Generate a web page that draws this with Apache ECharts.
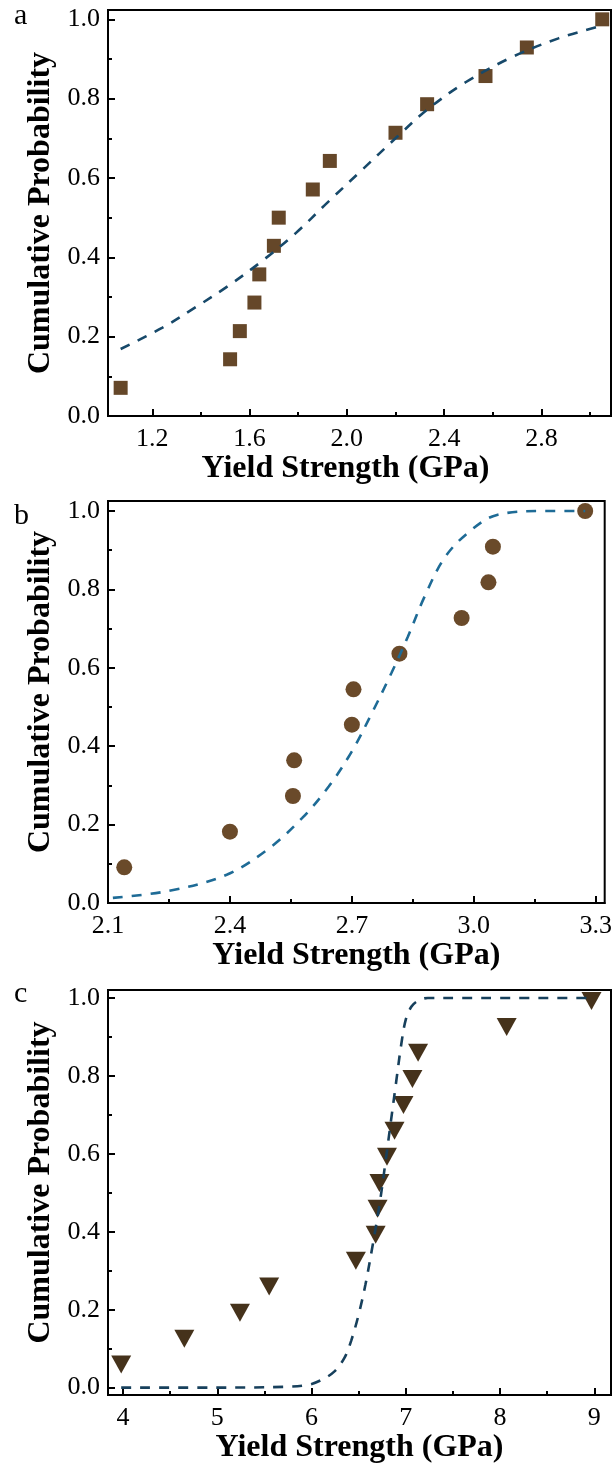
<!DOCTYPE html>
<html>
<head>
<meta charset="utf-8">
<script src="https://cdn.jsdelivr.net/npm/echarts@6/dist/echarts.min.js"></script>
<style>
  html, body { margin: 0; padding: 0; background: #fff; }
  #chart { width: 615px; height: 1470px; }
</style>
</head>
<body>
<div id="chart"></div>
<script>
// panel a: squares + fitted curve
const aStrength = [1.07, 1.52, 1.56, 1.62, 1.64, 1.70, 1.72, 1.86, 1.93, 2.20, 2.33, 2.57, 2.74, 3.05];
const aProb = [0.071, 0.143, 0.214, 0.286, 0.357, 0.429, 0.500, 0.571, 0.643, 0.714, 0.786, 0.857, 0.929, 1.000];
const aFitX = [1.07, 1.24, 1.38, 1.51, 1.65, 1.79, 1.92, 2.06, 2.20, 2.33, 2.49, 2.68, 2.87, 3.05];
const aFitY = [0.169, 0.222, 0.275, 0.327, 0.390, 0.461, 0.538, 0.619, 0.700, 0.772, 0.842, 0.905, 0.952, 0.984];

// panel b: circles + fitted curve
const bStrength = [2.14, 2.40, 2.555, 2.558, 2.70, 2.704, 2.817, 2.97, 3.036, 3.047, 3.274];
const bProb = [0.091, 0.182, 0.273, 0.364, 0.455, 0.545, 0.636, 0.727, 0.818, 0.909, 1.000];
const bFitX = [2.112, 2.25, 2.392, 2.497, 2.578, 2.643, 2.70, 2.749, 2.797, 2.838, 2.879, 2.927, 2.984, 3.057, 3.179, 3.274];
const bFitY = [0.013, 0.031, 0.072, 0.140, 0.217, 0.297, 0.387, 0.484, 0.586, 0.680, 0.782, 0.879, 0.943, 0.990, 1.000, 1.000];

// panel c: triangles + fitted curve
const cStrength = [3.98, 4.65, 5.24, 5.55, 6.47, 6.68, 6.70, 6.72, 6.80, 6.88, 6.975, 7.07, 7.13, 8.07, 8.97];
const cProb = [0.067, 0.133, 0.200, 0.267, 0.333, 0.400, 0.467, 0.533, 0.600, 0.667, 0.733, 0.800, 0.867, 0.933, 1.000];
const cFitX = [3.98, 5.00, 5.71, 5.96, 6.10, 6.24, 6.35, 6.42, 6.50, 6.572, 6.65, 6.721, 6.781, 6.837, 6.894, 6.951, 7.00, 7.06, 7.13, 7.233, 7.60, 8.97];
const cFitY = [0.000, 0.000, 0.002, 0.007, 0.019, 0.041, 0.077, 0.120, 0.188, 0.265, 0.368, 0.470, 0.573, 0.675, 0.778, 0.880, 0.945, 0.978, 0.993, 1.000, 1.000, 1.000];

// tick labels
const probTicks = [0, 0.2, 0.4, 0.6, 0.8, 1.0];
const probMinor = [0.1, 0.3, 0.5, 0.7, 0.9];
const aTicks = [1.2, 1.6, 2.0, 2.4, 2.8];
const aMinor = [1.4, 1.8, 2.2, 2.6, 3.0];
const bTicks = [2.1, 2.4, 2.7, 3.0, 3.3];
const bMinor = [2.25, 2.55, 2.85, 3.15];
const cTicks = [4, 5, 6, 7, 8, 9];
const cMinor = [4.5, 5.5, 6.5, 7.5, 8.5];

const FONT = "'Liberation Serif', 'Times New Roman', serif";
const zip = (xs, ys) => xs.map((x, i) => [x, ys[i]]);

const panels = [
    { grid: { left: 108, top: 10, right: 4, height: 406 },
      xMin: 1.018, xMax: 3.086, yMin: 0, yMax: 1.0235,
      xTicks: aTicks, xMinor: aMinor, xFmt: v => v.toFixed(1),
      xNamePad: [0, 28, 0, 0], yNamePad: [0, 0, 0, 0],
      pts: zip(aStrength, aProb), fit: zip(aFitX, aFitY),
      symbol: 'rect', symbolSize: 14, symbolOffset: [0, 0], color: '#654729', lineColor: '#17496A',
      letter: 'a', letterY: 25 },
    { grid: { left: 108, top: 501, right: 5, height: 402 },
      xMin: 2.1, xMax: 3.322, yMin: 0, yMax: 1.0255,
      xTicks: bTicks, xMinor: bMinor, xFmt: v => v.toFixed(1),
      xNamePad: [0, 0, 0, 0], yNamePad: [0, 0, 0, 20],
      pts: zip(bStrength, bProb), fit: zip(bFitX, bFitY),
      symbol: 'circle', symbolSize: 16, symbolOffset: [0, 0], color: '#6A4A2A', lineColor: '#1E6B96',
      letter: 'b', letterY: 525 },
    { grid: { left: 108, top: 990, right: 4, height: 405 },
      xMin: 3.84, xMax: 9.177, yMin: -0.019, yMax: 1.0205,
      xTicks: cTicks, xMinor: cMinor, xFmt: v => String(v),
      xNamePad: [0, 0, 0, 0], yNamePad: [0, 0, 0, 20],
      pts: zip(cStrength, cProb), fit: zip(cFitX, cFitY),
      symbol: 'triangle', symbolSize: [20, 18], symbolOffset: [0, 3], color: '#45321B', lineColor: '#17405C',
      letter: 'c', letterY: 1003 }
]

const chart = echarts.init(document.getElementById('chart'))

const grids = []
const xAxes = []
const yAxes = []
const series = []
const letters = []

panels.forEach((p, i) => {
    grids.push(Object.assign({ show: true, borderColor: '#000', borderWidth: 2, backgroundColor: 'transparent' }, p.grid))

    // main x axis with labels
    xAxes.push({
        type: 'value', gridIndex: i, position: 'bottom',
        min: p.xMin, max: p.xMax,
        name: 'Yield Strength (GPa)', nameLocation: 'middle', nameGap: 36,
        nameTextStyle: { fontFamily: FONT, fontSize: 32, fontWeight: 'bold', color: '#000', padding: p.xNamePad },
        axisLine: { show: true, onZero: false, lineStyle: { color: '#000', width: 2 } },
        axisTick: { show: true, inside: true, length: 7, customValues: p.xTicks, lineStyle: { color: '#000', width: 2 } },
        axisLabel: { show: true, customValues: p.xTicks, formatter: p.xFmt, margin: 10,
            fontFamily: FONT, fontSize: 26, color: '#000' },
        splitLine: { show: false }
    })
    // minor ticks
    xAxes.push({
        type: 'value', gridIndex: i, position: 'bottom',
        min: p.xMin, max: p.xMax,
        axisLine: { show: false, onZero: false },
        axisTick: { show: true, inside: true, length: 4, customValues: p.xMinor, lineStyle: { color: '#000', width: 2 } },
        axisLabel: { show: false },
        splitLine: { show: false }
    })

    yAxes.push({
        type: 'value', gridIndex: i, position: 'left',
        min: p.yMin, max: p.yMax,
        name: 'Cumulative Probability', nameLocation: 'middle', nameGap: 44,
        nameTextStyle: { fontFamily: FONT, fontSize: 32, fontWeight: 'bold', color: '#000', padding: p.yNamePad },
        axisLine: { show: true, onZero: false, lineStyle: { color: '#000', width: 2 } },
        axisTick: { show: true, inside: true, length: 7, customValues: probTicks, lineStyle: { color: '#000', width: 2 } },
        axisLabel: { show: true, customValues: probTicks, formatter: v => v.toFixed(1), margin: 8,
            fontFamily: FONT, fontSize: 26, color: '#000' },
        splitLine: { show: false }
    })
    yAxes.push({
        type: 'value', gridIndex: i, position: 'left',
        min: p.yMin, max: p.yMax,
        axisLine: { show: false, onZero: false },
        axisTick: { show: true, inside: true, length: 4, customValues: probMinor, lineStyle: { color: '#000', width: 2 } },
        axisLabel: { show: false },
        splitLine: { show: false }
    })

    series.push({
        type: 'scatter', xAxisIndex: 2 * i, yAxisIndex: 2 * i,
        data: p.pts, symbol: p.symbol, symbolSize: p.symbolSize,
        symbolOffset: p.symbolOffset, symbolRotate: p.symbol === 'triangle' ? 180 : 0,
        itemStyle: { color: p.color, opacity: 1 },
        z: 2
    })
    series.push({
        type: 'line', xAxisIndex: 2 * i, yAxisIndex: 2 * i,
        data: p.fit, smooth: 0.35, showSymbol: false,
        lineStyle: { color: p.lineColor, width: 2.6, type: [10, 9] },
        z: 3
    })

    letters.push({
        type: 'text', left: 14, top: p.letterY - 24,
        style: { text: p.letter, font: '30px ' + FONT, fill: '#000' }
    })
})

chart.setOption({
    animation: false,
    grid: grids,
    xAxis: xAxes,
    yAxis: yAxes,
    series: series,
    graphic: letters
})
</script>
</body>
</html>
